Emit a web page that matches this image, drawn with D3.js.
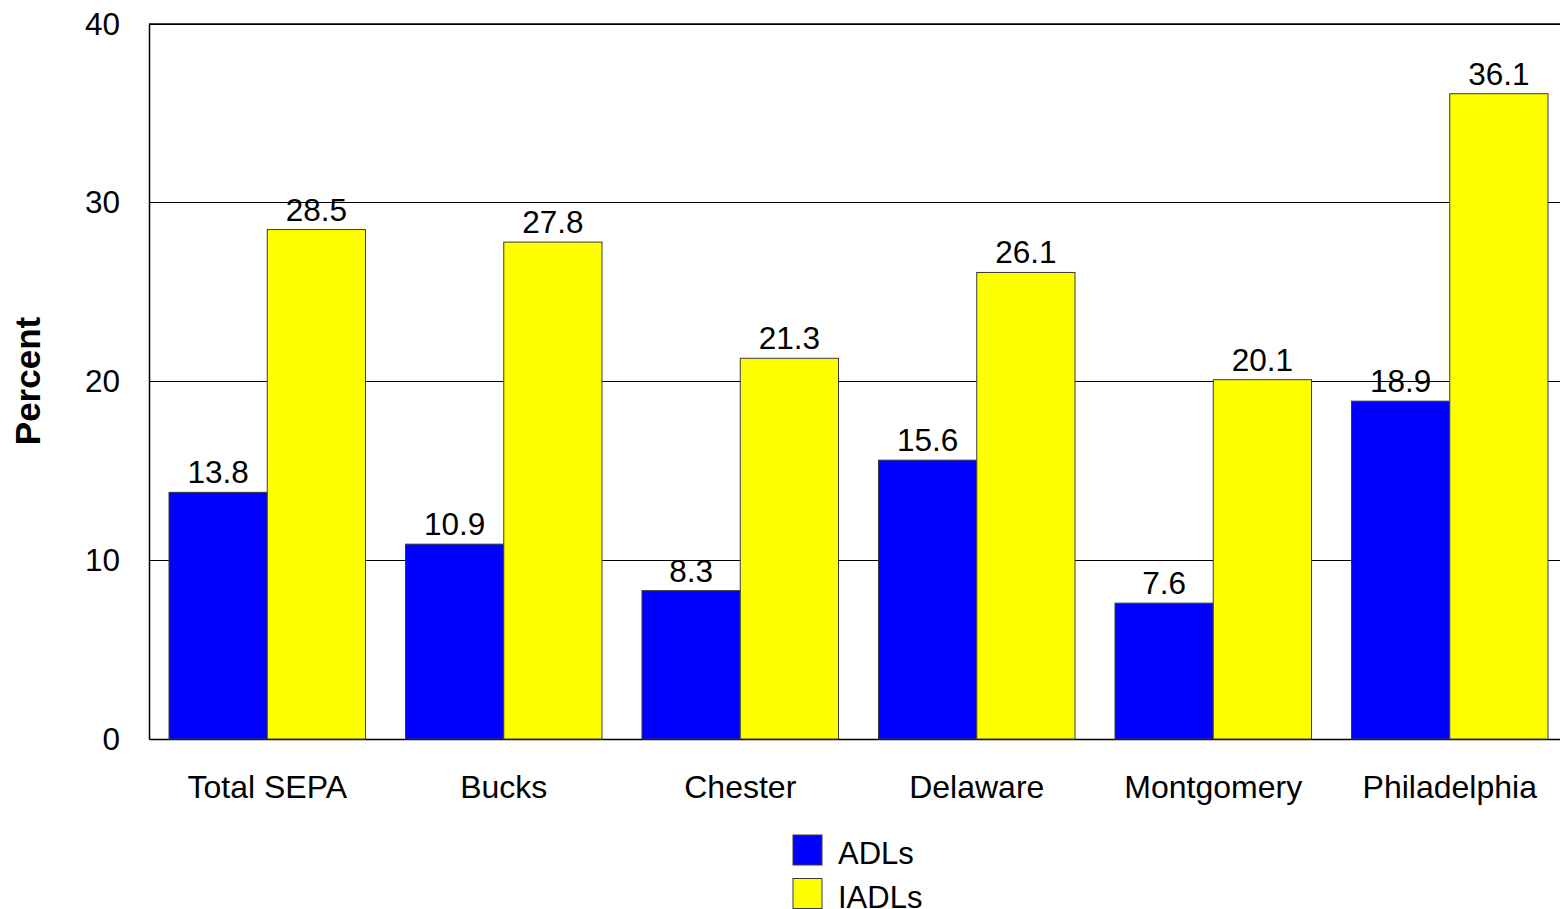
<!DOCTYPE html>
<html><head><meta charset="utf-8">
<script src="https://cdn.jsdelivr.net/npm/d3@7"></script>
<style>body{margin:0;background:#fff}svg{display:block;font-family:"Liberation Sans",Arial,sans-serif}</style>
</head><body><svg id="c" width="1560" height="909"></svg>
<script>
const categories = ["Total SEPA","Bucks","Chester","Delaware","Montgomery","Philadelphia"];
const seriesNames = ["ADLs","IADLs"];
const adls = [13.8,10.9,8.3,15.6,7.6,18.9];
const iadls = [28.5,27.8,21.3,26.1,20.1,36.1];
const yTicks = [0,10,20,30,40];
const colors = ["#0000ff","#ffff00"];

(function(){
const svg = d3.select("#c");
const mLeft = 149, mRight = 1568, mTop = 24, mBottom = 739;
const x = d3.scaleBand().domain(categories).range([mLeft, mRight]).padding(0);
const step = x.bandwidth();
const xs = d3.scaleBand().domain(seriesNames).range([20, step - 20]).padding(0);
const y = d3.scaleLinear().domain([0,40]).range([mBottom, mTop]);

// gridlines
svg.append("g").selectAll("line").data(yTicks.filter(d=>d>0)).join("line")
  .attr("x1", mLeft).attr("x2", mRight).attr("y1", d=>y(d)).attr("y2", d=>y(d))
  .attr("stroke", "#000").attr("stroke-width", 1).attr("shape-rendering","crispEdges");

// y axis
const ya = d3.axisLeft(y).tickValues(yTicks).tickSize(0).tickPadding(29);
const yg = svg.append("g").attr("transform", `translate(${mLeft},0)`).call(ya);
yg.select(".domain").attr("stroke","#000").attr("stroke-width",1.5);
yg.selectAll("text").attr("font-size", 31.5).attr("fill","#000").attr("font-family","Liberation Sans, Arial, sans-serif");

// x axis
const xa = d3.axisBottom(x).tickSize(0).tickPadding(36);
const xg = svg.append("g").attr("transform", `translate(0,${mBottom})`).call(xa);
xg.select(".domain").attr("stroke","#000").attr("stroke-width",1.5);
xg.selectAll("text").attr("font-size", 32).attr("fill","#000").attr("font-family","Liberation Sans, Arial, sans-serif");

const data = categories.map((c,i)=>({cat:c, vals:[{s:"ADLs",v:adls[i]},{s:"IADLs",v:iadls[i]}]}));
const groups = svg.append("g").selectAll("g").data(data).join("g")
  .attr("transform", d=>`translate(${x(d.cat)},0)`);
groups.selectAll("rect").data(d=>d.vals).join("rect")
  .attr("x", d=>xs(d.s)).attr("width", xs.bandwidth())
  .attr("y", d=>y(d.v)).attr("height", d=>y(0)-y(d.v))
  .attr("fill", (d,i)=>colors[i]).attr("stroke","#3a3a3a").attr("stroke-width",1);
groups.selectAll("text").data(d=>d.vals).join("text")
  .attr("x", d=>xs(d.s)+xs.bandwidth()/2).attr("y", d=>y(d.v)-9)
  .attr("text-anchor","middle").attr("font-size",31.5).attr("fill","#000")
  .text(d=>d.v.toFixed(1));

// top frame line
svg.append("line").attr("x1",mLeft).attr("x2",mRight).attr("y1",mTop).attr("y2",mTop)
  .attr("stroke","#000").attr("stroke-width",1.5);

// y title
svg.append("text").attr("transform","translate(40,381) rotate(-90)")
  .attr("text-anchor","middle").attr("font-size",35).attr("font-weight","bold").text("Percent");

// legend
const lg = svg.append("g").selectAll("g").data(seriesNames).join("g")
  .attr("transform",(d,i)=>`translate(793,${835+i*43.5})`);
lg.append("rect").attr("width",29).attr("height",30).attr("fill",(d,i)=>colors[i]).attr("stroke","#3a3a3a");
lg.append("text").attr("x",45).attr("y",29).attr("font-size",31).text(d=>d);
})();
</script></body></html>
